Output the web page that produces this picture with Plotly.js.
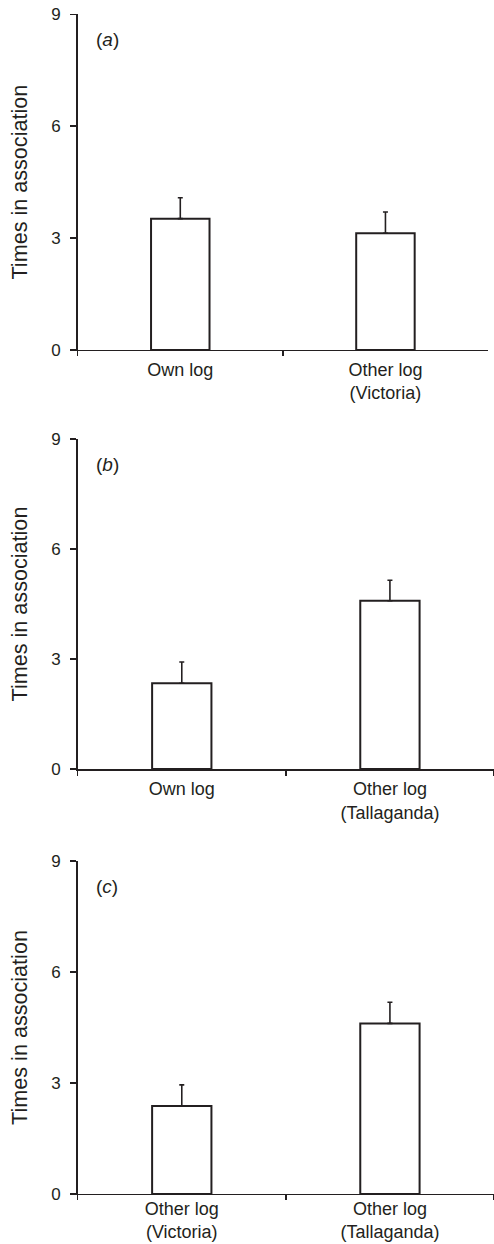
<!DOCTYPE html>
<html>
<head>
<meta charset="utf-8">
<script src="https://cdn.plot.ly/plotly-3.0.1.min.js"></script>
<style>html,body{margin:0;padding:0;background:#fff;}#chart{width:494px;height:1244px;}</style>
</head>
<body>
<div id="chart"></div>
<script>
// Panel (a)
var catsA = ["Own log", "Other log<br>(Victoria)"];
var meanA = [3.52, 3.13];
var errA  = [0.56, 0.57];
// Panel (b)
var catsB = ["Own log", "Other log<br>(Tallaganda)"];
var meanB = [2.34, 4.59];
var errB  = [0.58, 0.56];
// Panel (c)
var catsC = ["Other log<br>(Victoria)", "Other log<br>(Tallaganda)"];
var meanC = [2.38, 4.61];
var errC  = [0.57, 0.57];
var panelLabels = ["(<i>a</i>)", "(<i>b</i>)", "(<i>c</i>)"];
var yTicks = [0, 3, 6, 9];
var yTitle = "Times in association";

var ink = "#231f20";
var fontFam = "Liberation Sans, Arial, Helvetica, sans-serif";

function barTrace(cats, vals, errs, n) {
  var s = n === 1 ? "" : String(n);
  return {
    type: "bar", x: cats, y: vals, xaxis: "x" + s, yaxis: "y" + s,
    width: 0.285,
    marker: {color: "#ffffff", line: {color: ink, width: 2}},
    error_y: {type: "data", symmetric: false, array: errs, arrayminus: errs.map(function(){return 0;}),
              color: ink, thickness: 1.6, width: 2.5},
    hoverinfo: "skip", showlegend: false
  };
}

var data = [barTrace(catsA, meanA, errA, 1), barTrace(catsB, meanB, errB, 2), barTrace(catsC, meanC, errC, 3)];

function xAx(dom, anchor, standoff) {
  return {domain: dom, anchor: anchor, type: "category", range: [-0.5, 1.5],
    showline: true, linecolor: ink, linewidth: 1.5, ticks: "outside", ticklen: 5, tickwidth: 1.5,
    tickcolor: ink, tickson: "boundaries", showgrid: false, zeroline: false, fixedrange: true,
    ticklabelstandoff: standoff,
    tickfont: {family: fontFam, size: 18, color: ink}};
}
function yAx(dom, anchor) {
  return {domain: dom, anchor: anchor, range: [0, 9], tickvals: yTicks, ticktext: yTicks.map(String),
    showline: true, linecolor: ink, linewidth: 1.5, ticks: "outside", ticklen: 6, tickwidth: 1.5,
    tickcolor: ink, showgrid: false, zeroline: false, fixedrange: true,
    ticklabelstandoff: 6,
    tickfont: {family: fontFam, size: 17, color: ink},
    title: {text: yTitle, font: {family: fontFam, size: 21.6, color: ink}, standoff: 18}};
}

var xd = [0.1573, 0.9879];
var xd2 = [0.1573, 1.0];
var layout = {
  width: 494, height: 1244,
  margin: {l: 0, r: 0, t: 0, b: 0},
  paper_bgcolor: "#fff", plot_bgcolor: "#fff",
  xaxis: xAx(xd, "y", 3), yaxis: yAx([0.7187, 0.9885], "x"),
  xaxis2: xAx(xd2, "y2", 3), yaxis2: yAx([0.3818, 0.6471], "x2"),
  xaxis3: xAx(xd2, "y3", -2), yaxis3: yAx([0.0402, 0.3079], "x3"),
  annotations: [
    {text: panelLabels[0], xref: "x domain", yref: "y domain", x: 0.04, y: 0.926, xanchor: "left", yanchor: "middle", showarrow: false, font: {family: fontFam, size: 19, color: ink}},
    {text: panelLabels[1], xref: "x2 domain", yref: "y2 domain", x: 0.04, y: 0.922, xanchor: "left", yanchor: "middle", showarrow: false, font: {family: fontFam, size: 19, color: ink}},
    {text: panelLabels[2], xref: "x3 domain", yref: "y3 domain", x: 0.04, y: 0.924, xanchor: "left", yanchor: "middle", showarrow: false, font: {family: fontFam, size: 19, color: ink}}
  ],
  bargap: 0
};

Plotly.newPlot("chart", data, layout, {displayModeBar: false, staticPlot: true});
</script>
</body>
</html>
